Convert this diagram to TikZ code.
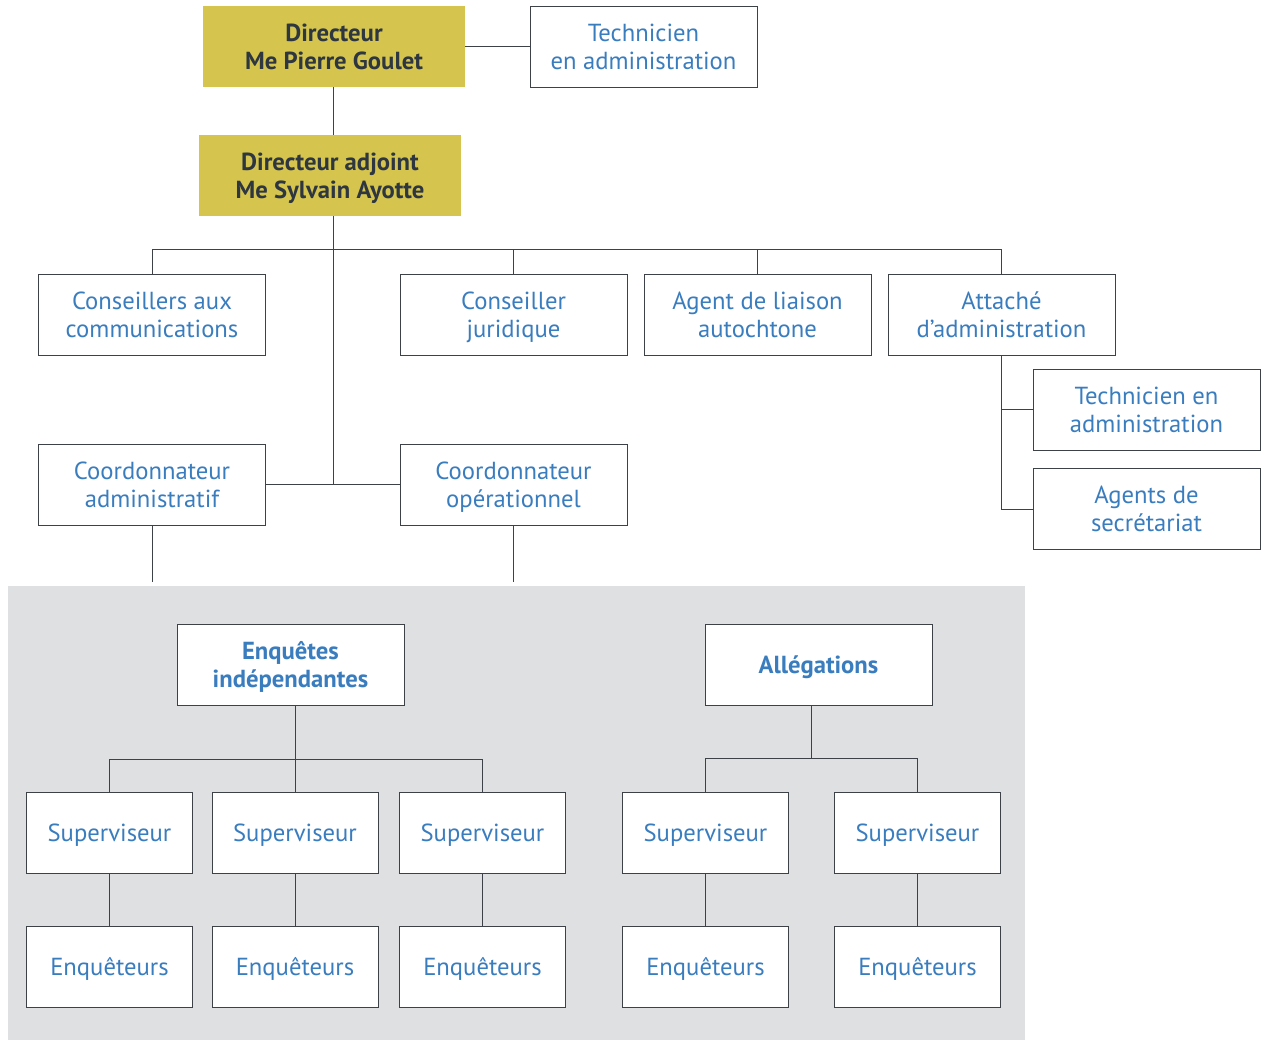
\documentclass[tikz,border=0pt]{standalone}
\usepackage{fontspec}
\setmainfont{PT Sans}
\usetikzlibrary{calc}
\definecolor{gold}{HTML}{D5C54E}
\definecolor{txtblue}{HTML}{3A7DBF}
\definecolor{dark}{HTML}{2E3640}
\definecolor{linec}{HTML}{3D4248}
\definecolor{panel}{HTML}{DFE0E2}
\tikzset{
  x=0.75pt, y=-0.75pt,
  base/.style={align=center, inner sep=0pt, text depth=0pt, minimum height=60.75pt, font=\fontsize{18.5}{21}\selectfont},
  goldbox/.style={base, fill=gold, text=dark, font=\fontsize{18.5}{21}\selectfont\bfseries, minimum width=196.5pt},
  wbox/.style={base, draw=linec, line width=0.6pt, fill=white, text=txtblue, minimum width=170.25pt},
  sbox/.style={base, draw=linec, line width=0.6pt, fill=white, text=txtblue, minimum width=124.5pt},
  conn/.style={draw=linec, line width=0.75pt},
}
\begin{document}
\begin{tikzpicture}
\useasboundingbox (0,0) rectangle (1261,1040);
\fill[panel] (8,586) rectangle (1025,1040);

\node[goldbox] (dir) at (334,46.5) {Directeur\\Me Pierre Goulet};
\node[wbox] (tech1) at (643.5,46.5) {Technicien\\en administration};
\node[goldbox] (adj) at (330,175.5) {Directeur adjoint\\Me Sylvain Ayotte};

\node[wbox] (con) at (152,314.5) {Conseillers aux\\communications};
\node[wbox] (jur) at (513.5,314.5) {Conseiller\\juridique};
\node[wbox] (agent) at (757.5,314.5) {Agent de liaison\\autochtone};
\node[wbox] (att) at (1001.5,314.5) {Attaché\\d’administration};

\node[wbox] (coadm) at (152,484.5) {Coordonnateur\\administratif};
\node[wbox] (coop) at (513.5,484.5) {Coordonnateur\\opérationnel};

\node[wbox] (tech2) at (1146.5,409.5) {Technicien en\\administration};
\node[wbox] (secr) at (1146.5,509) {Agents de\\secrétariat};

\node[wbox, font=\fontsize{18.5}{21}\selectfont\bfseries] (enq) at (290.5,664.5) {Enquêtes\\indépendantes};
\node[wbox, font=\fontsize{18.5}{21}\selectfont\bfseries] (alleg) at (818.5,664.5) {Allégations};

\node[sbox] (sup1) at (109.5,832.5) {Superviseur};
\node[sbox] (sup2) at (295,832.5) {Superviseur};
\node[sbox] (sup3) at (482.5,832.5) {Superviseur};
\node[sbox] (sup4) at (705.5,832.5) {Superviseur};
\node[sbox] (sup5) at (917.5,832.5) {Superviseur};

\node[sbox] (enq1) at (109.5,966.5) {Enquêteurs};
\node[sbox] (enq2) at (295,966.5) {Enquêteurs};
\node[sbox] (enq3) at (482.5,966.5) {Enquêteurs};
\node[sbox] (enq4) at (705.5,966.5) {Enquêteurs};
\node[sbox] (enq5) at (917.5,966.5) {Enquêteurs};

% coordinates
\coordinate (sp) at (333,0);
\coordinate (bus) at (0,249);
\coordinate (cobus) at (0,485);
\coordinate (endadm) at (152,582);
\coordinate (endop) at (513.5,582);
\coordinate (ebus) at (0,759);
\coordinate (amid) at ($(sup4)!0.5!(sup5)$);
\coordinate (abus) at (0,758);

% top
\draw[conn] (dir.east) -- (tech1.west);
\draw[conn] (sp |- dir.south) -- (sp |- adj.north);
\draw[conn] (sp |- adj.south) -- (sp |- cobus);
\draw[conn] (con.north |- bus) -- (att.north |- bus);
\draw[conn] (con.north |- bus) -- (con.north);
\draw[conn] (jur.north |- bus) -- (jur.north);
\draw[conn] (agent.north |- bus) -- (agent.north);
\draw[conn] (att.north |- bus) -- (att.north);
\draw[conn] (coadm.east) -- (coop.west);
\draw[conn] (coadm.south) -- (endadm);
\draw[conn] (coop.south) -- (endop);

% attache
\draw[conn] (att.south) -- (att.south |- secr.west) -- (secr.west);
\draw[conn] (att.south |- tech2.west) -- (tech2.west);

% enquetes
\draw[conn] (sup2 |- enq.south) -- (sup2 |- ebus);
\draw[conn] (sup1 |- ebus) -- (sup3 |- ebus);
\foreach \i in {1,2,3}{
  \draw[conn] (sup\i |- ebus) -- (sup\i.north);
}
\draw[conn] (amid |- alleg.south) -- (amid |- abus);
\draw[conn] (sup4 |- abus) -- (sup5 |- abus);
\foreach \i in {4,5}{
  \draw[conn] (sup\i |- abus) -- (sup\i.north);
}
\foreach \i in {1,...,5}{
  \draw[conn] (sup\i.south) -- (enq\i.north);
}
\end{tikzpicture}
\end{document}
